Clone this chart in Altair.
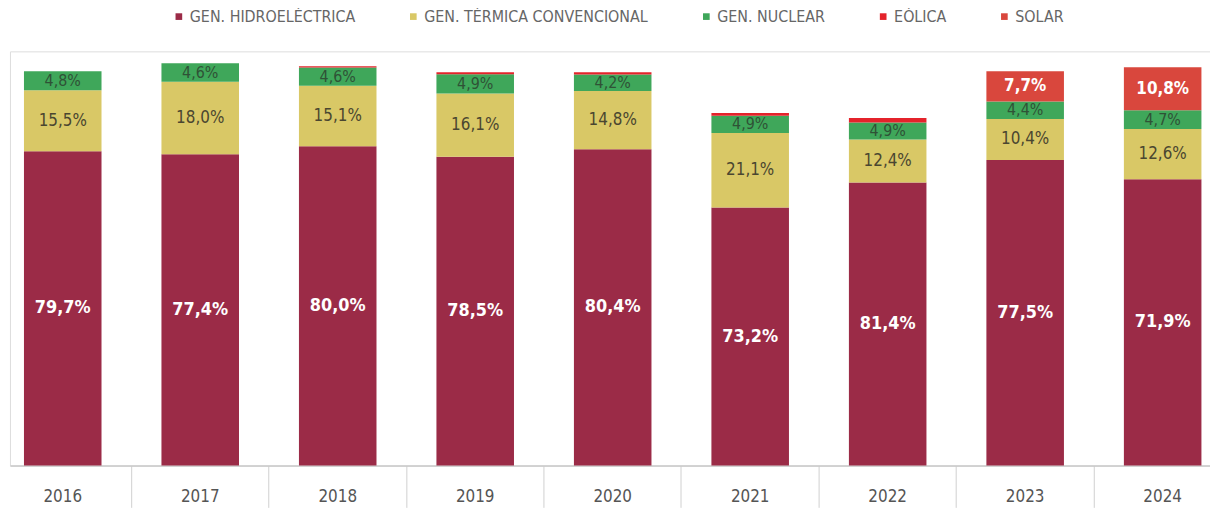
import altair as alt
import pandas as pd

years = ["2016", "2017", "2018", "2019", "2020", "2021", "2022", "2023", "2024"]
# total generation per year (relative units)
totals = [397, 405, 402, 396, 396, 355, 350, 397, 401]
series = ["GEN. HIDROELÉCTRICA", "GEN. TÉRMICA CONVENCIONAL", "GEN. NUCLEAR", "EÓLICA", "SOLAR"]
colors = ["#9b2b47", "#d9c866", "#3fa75a", "#e4232b", "#d9473d"]
hidro = [79.7, 77.4, 80.0, 78.5, 80.4, 73.2, 81.4, 77.5, 71.9]
termica = [15.5, 18.0, 15.1, 16.1, 14.8, 21.1, 12.4, 10.4, 12.6]
nuclear = [4.8, 4.6, 4.6, 4.9, 4.2, 4.9, 4.9, 4.4, 4.7]
eolica = [0.0, 0.0, 0.3, 0.5, 0.6, 0.8, 1.3, 0.0, 0.0]
solar = [0.0, 0.0, 0.0, 0.0, 0.0, 0.0, 0.0, 7.7, 10.8]

rows = []
for i, y in enumerate(years):
    for k, (s, arr) in enumerate(zip(series, [hidro, termica, nuclear, eolica, solar])):
        p = arr[i]
        lab = (f"{p:.1f}".replace(".", ",") + "%") if p >= 2 else ""
        rows.append({"year": y, "serie": s, "order": k, "pct": p,
                     "value": totals[i] * p / 100.0, "label": lab})
df = pd.DataFrame(rows)

FONT = "DejaVu Sans Condensed, Roboto, sans-serif"

xenc = alt.X("year:N", sort=years, title=None,
             scale=alt.Scale(paddingInner=0.436, paddingOuter=0.082, align=0.62),
             axis=alt.Axis(labelAngle=0, domainColor="#c8c8c8", domainWidth=1.5,
                           tickColor="#d0d0d0", tickSize=42, bandPosition=-0.387,
                           labelFont=FONT, labelFontSize=17, labelColor="#555555",
                           labelPadding=-11, labelBaseline="middle"))

base = alt.Chart(df).transform_stack(
    stack="value", as_=["y0", "y1"], groupby=["year"],
    sort=[alt.SortField("order", order="ascending")]
).transform_calculate(mid="(datum.y0 + datum.y1) / 2")

yscale = alt.Scale(domain=[0, 417], nice=False)

bars = base.mark_bar().encode(
    x=xenc,
    y=alt.Y("y0:Q", scale=yscale, axis=None),
    y2="y1:Q",
    color=alt.Color("serie:N", sort=series,
                    scale=alt.Scale(domain=series, range=colors),
                    legend=alt.Legend(title=None, orient="none", direction="horizontal",
                                      legendX=162, legendY=-43, symbolType="square",
                                      symbolSize=45, symbolStrokeWidth=0,
                                      labelFont=FONT, labelFontSize=16, labelLimit=500,
                                      labelColor="#666666", columnPadding=50,
                                      labelOffset=3)),
    order=alt.Order("order:Q"),
)

def txt(serie, color, weight, size):
    return base.transform_filter(alt.datum.serie == serie).mark_text(
        font=FONT, fontSize=size, fontWeight=weight, color=color, baseline="middle"
    ).encode(x=alt.X("year:N", sort=years), y=alt.Y("mid:Q", scale=yscale), text="label:N")

chart = alt.layer(
    bars,
    txt(series[0], "#ffffff", "bold", 18),
    txt(series[1], "#4a4630", "normal", 17),
    txt(series[2], "#2f5236", "normal", 16),
    txt(series[4], "#ffffff", "bold", 17),
).properties(
    width=1208, height=417,
    padding={"left": 2, "top": 42, "right": 0, "bottom": 41},
    autosize=alt.AutoSizeParams(type="none"),
).configure_view(stroke=None).configure(background="#ffffff")

chart.save("out.html", embed_options={"renderer": "svg", "actions": False})
